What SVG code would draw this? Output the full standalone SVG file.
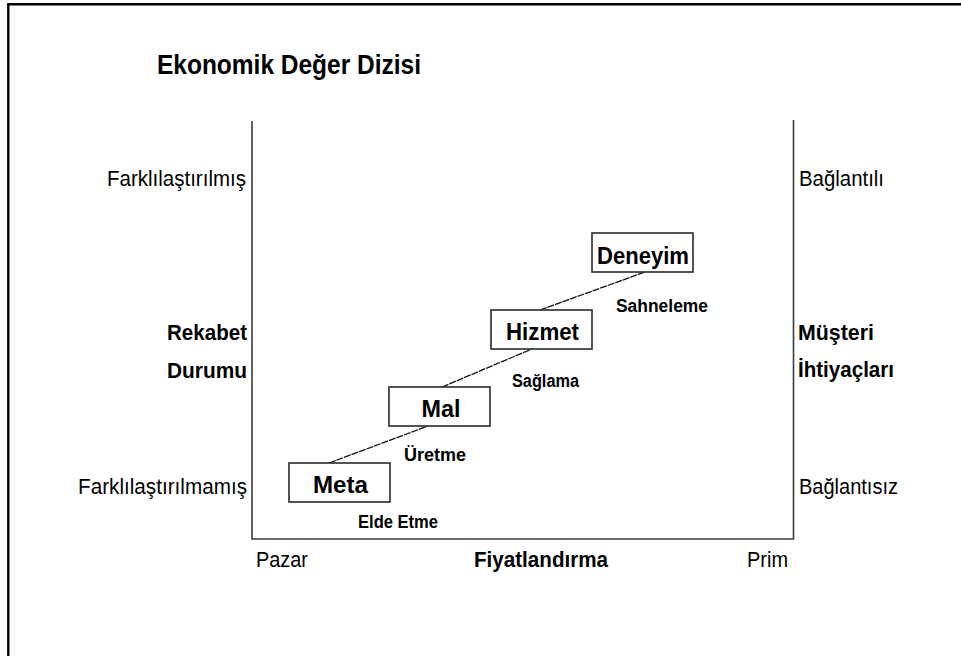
<svg xmlns="http://www.w3.org/2000/svg" width="961" height="656" viewBox="0 0 961 656">
<style>
text{font-family:"Liberation Sans",Arial,sans-serif;fill:#000}
.reg{font-size:22.5px}
.bld{font-weight:bold;font-size:21.5px}
.box{font-weight:bold;font-size:24px;text-anchor:middle}
.sub{font-weight:bold;font-size:17.5px}
.axis{fill:none;stroke:#3c3c3c;stroke-width:1.6}
.node rect{fill:#fff;stroke:#2a2a2a;stroke-width:1.6}
.conn line{stroke:#111;stroke-width:1.3;stroke-dasharray:7 1}
</style>
<rect width="961" height="656" fill="#fff"/>
<path d="M8.3,656 V4.3 H961" fill="none" stroke="#000" stroke-width="2.4"/>
<text x="157" y="74" style="font-weight:bold;font-size:27px" textLength="264" lengthAdjust="spacingAndGlyphs">Ekonomik Değer Dizisi</text>
<path class="axis" d="M252,121 V539 H793.5 V120"/>
<g id="labels-left">
<text class="reg" x="107" y="186" textLength="139" lengthAdjust="spacingAndGlyphs">Farklılaştırılmış</text>
<text class="bld" x="167" y="340" textLength="80" lengthAdjust="spacingAndGlyphs">Rekabet</text>
<text class="bld" x="167" y="378" textLength="80" lengthAdjust="spacingAndGlyphs">Durumu</text>
<text class="reg" x="78" y="493.5" textLength="169" lengthAdjust="spacingAndGlyphs">Farklılaştırılmamış</text>
</g>
<g id="labels-right">
<text class="reg" x="799" y="186" textLength="85" lengthAdjust="spacingAndGlyphs">Bağlantılı</text>
<text class="bld" x="798" y="340" textLength="76" lengthAdjust="spacingAndGlyphs">Müşteri</text>
<text class="bld" x="798" y="377" textLength="96" lengthAdjust="spacingAndGlyphs">İhtiyaçları</text>
<text class="reg" x="799" y="493.5" textLength="99" lengthAdjust="spacingAndGlyphs">Bağlantısız</text>
</g>
<g id="labels-bottom">
<text class="reg" x="256" y="567" textLength="52" lengthAdjust="spacingAndGlyphs">Pazar</text>
<text class="bld" x="474" y="567" textLength="134" lengthAdjust="spacingAndGlyphs">Fiyatlandırma</text>
<text class="reg" x="747" y="567" textLength="41" lengthAdjust="spacingAndGlyphs">Prim</text>
</g>
<g id="connectors" class="conn">
<line x1="329" y1="463" x2="428" y2="426"/>
<line x1="442" y1="387" x2="532" y2="349"/>
<line x1="540" y1="310" x2="645" y2="272"/>
</g>
<g id="node-meta" class="node">
<rect x="289" y="463" width="101" height="39"/>
<text class="box" x="340.5" y="492.5" textLength="55" lengthAdjust="spacingAndGlyphs">Meta</text>
</g>
<g id="node-mal" class="node">
<rect x="389" y="387" width="101" height="39"/>
<text class="box" x="441" y="416.5" textLength="39" lengthAdjust="spacingAndGlyphs">Mal</text>
</g>
<g id="node-hizmet" class="node">
<rect x="491" y="310" width="101" height="39"/>
<text class="box" x="542.5" y="339.5" textLength="73" lengthAdjust="spacingAndGlyphs">Hizmet</text>
</g>
<g id="node-deneyim" class="node">
<rect x="592" y="233" width="101" height="39"/>
<text class="box" x="643" y="263.5" textLength="92" lengthAdjust="spacingAndGlyphs">Deneyim</text>
</g>
<g id="edge-labels">
<text class="sub" x="616" y="311.5" textLength="92" lengthAdjust="spacingAndGlyphs">Sahneleme</text>
<text class="sub" x="512" y="386.5" textLength="67" lengthAdjust="spacingAndGlyphs">Sağlama</text>
<text class="sub" x="404" y="461" textLength="62" lengthAdjust="spacingAndGlyphs">Üretme</text>
<text class="sub" x="358" y="528" textLength="80" lengthAdjust="spacingAndGlyphs">Elde Etme</text>
</g>
</svg>
